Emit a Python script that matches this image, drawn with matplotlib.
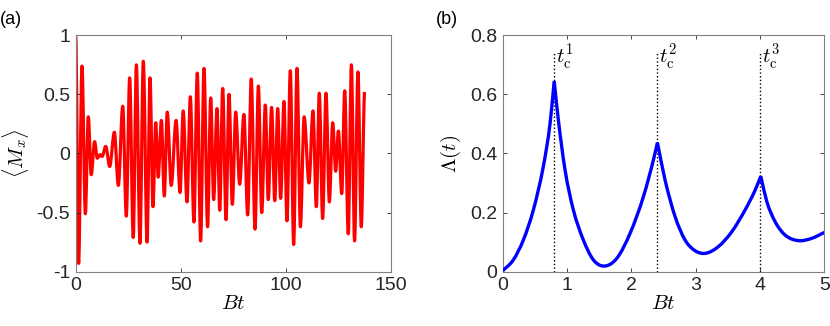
import matplotlib
matplotlib.use("Agg")
import matplotlib.pyplot as plt
from matplotlib.path import Path
from matplotlib.patches import PathPatch

plt.rcParams['font.family'] = ['Liberation Sans', 'DejaVu Sans']
plt.rcParams['mathtext.fontset'] = 'cm'

# ---- panel (a): turning points of <M_x> ----
mx_t = [0, 1.4, 3.0, 4.6, 6.0, 7.4, 9.0, 10.3, 11.6, 12.6, 14.3, 16.2, 18.4,
        20.3, 22.4, 24.1, 25.7, 27.4, 28.9, 30.6, 32.2, 34.0, 35.4, 36.8,
        38.1, 39.3, 40.8, 42.2, 43.6, 45.5, 47.8, 49.7, 51.2, 53.0, 54.6,
        56.3, 57.9, 59.5, 61.1, 62.8, 64.3, 65.7, 67.3, 68.6, 70.0, 71.6,
        73.0, 74.6, 76.2, 78.1, 80.1, 81.9, 83.6, 85.4, 87.0, 88.6, 90.3,
        91.7, 93.3, 94.8, 96.2, 97.6, 99.2, 100.6, 102.2, 103.8, 105.4,
        107.0, 108.8, 111.1, 113.0, 114.6, 116.0, 117.6, 119.2, 120.8,
        122.4, 123.8, 125.1, 126.7, 128.1, 129.8, 131.3, 132.8, 134.4,
        136.0, 137.6]
mx_val = [1.0, -0.93, 0.74, -0.51, 0.31, -0.18, 0.10, -0.04, -0.01, -0.025,
          0.06, -0.11, 0.18, -0.27, 0.40, -0.53, 0.64, -0.71, 0.75, -0.76,
          0.78, -0.75, 0.64, -0.45, 0.26, -0.20, 0.28, -0.36, 0.35, -0.27,
          0.28, -0.33, 0.36, -0.41, 0.48, -0.58, 0.68, -0.74, 0.72, -0.62,
          0.47, -0.39, 0.38, -0.48, 0.55, -0.56, 0.50, -0.43, 0.35, -0.26,
          0.33, -0.52, 0.63, -0.64, 0.57, -0.50, 0.41, -0.39, 0.39, -0.40,
          0.38, -0.38, 0.44, -0.57, 0.70, -0.77, 0.72, -0.62, 0.31, -0.25,
          0.36, -0.45, 0.51, -0.55, 0.51, -0.41, 0.26, -0.15, 0.19, -0.34,
          0.53, -0.68, 0.75, -0.74, 0.69, -0.62, 0.52]

# ---- panel (b): Lambda(t) ----
lam_t = [0, 0.165, 0.32, 0.476, 0.63, 0.736, 0.80, 0.865, 0.969, 1.098,
         1.254, 1.409, 1.575, 1.773, 1.98, 2.187, 2.342, 2.405, 2.524, 2.68,
         2.835, 2.99, 3.146, 3.353, 3.56, 3.768, 3.924, 4.012, 4.106, 4.235,
         4.39, 4.597, 4.806, 5.0]
lam_val = [0.003, 0.040, 0.107, 0.209, 0.355, 0.502, 0.645, 0.513, 0.344,
           0.209, 0.107, 0.040, 0.019, 0.045, 0.130, 0.254, 0.378, 0.437,
           0.310, 0.186, 0.107, 0.071, 0.062, 0.085, 0.135, 0.209, 0.276,
           0.323, 0.237, 0.169, 0.124, 0.105, 0.113, 0.133]
tc = [0.8, 2.4, 4.0]
tc_labels = [r'$t_{\rm c}^{1}$', r'$t_{\rm c}^{2}$', r'$t_{\rm c}^{3}$']

spine_col = '#262626'


def turning_path(xs, ys):
    # cubic segments with flat tangents at every read turning point
    verts = [(xs[0], ys[0])]
    codes = [Path.MOVETO]
    for i in range(1, len(xs)):
        dx = xs[i] - xs[i - 1]
        verts += [(xs[i - 1] + dx / 3, ys[i - 1]), (xs[i] - dx / 3, ys[i]),
                  (xs[i], ys[i])]
        codes += [Path.CURVE4] * 3
    return Path(verts, codes)


def smooth_path(xs, ys):
    # Catmull-Rom style cubic segments, kept sharp at local maxima (cusps)
    n = len(xs)
    sl = [(ys[i + 1] - ys[i]) / (xs[i + 1] - xs[i]) for i in range(n - 1)]
    left, right = [], []
    for i in range(n):
        if i == 0:
            left.append(sl[0]); right.append(sl[0])
        elif i == n - 1:
            left.append(sl[-1]); right.append(sl[-1])
        elif ys[i] > ys[i - 1] and ys[i] > ys[i + 1]:
            left.append(sl[i - 1]); right.append(sl[i])
        else:
            m = 0.5 * (sl[i - 1] + sl[i])
            left.append(m); right.append(m)
    verts = [(xs[0], ys[0])]
    codes = [Path.MOVETO]
    for i in range(n - 1):
        dx = xs[i + 1] - xs[i]
        verts += [(xs[i] + dx / 3, ys[i] + right[i] * dx / 3),
                  (xs[i + 1] - dx / 3, ys[i + 1] - left[i + 1] * dx / 3),
                  (xs[i + 1], ys[i + 1])]
        codes += [Path.CURVE4] * 3
    return Path(verts, codes)


fig = plt.figure(figsize=(8.3, 3.26), dpi=100)
ax1 = fig.add_axes([0.0912, 0.1666, 0.3795, 0.7252])
ax2 = fig.add_axes([0.6057, 0.1666, 0.3875, 0.7252])

ax1.add_patch(PathPatch(turning_path(mx_t, mx_val), fill=False,
                        edgecolor='red', lw=2.3, joinstyle='round',
                        capstyle='butt'))
ax1.set_xlim(0, 150)
ax1.set_ylim(-1, 1)
ax1.set_xticks([0, 50, 100, 150])
ax1.set_yticks([-1, -0.5, 0, 0.5, 1])
ax1.set_yticklabels(['-1', '-0.5', '0', '0.5', '1'])
ax1.set_xlabel(r'$Bt$', fontsize=15, labelpad=0)
ax1.set_ylabel(r'$\langle M_x \rangle$', fontsize=15, labelpad=4)

for t, lab in zip(tc, tc_labels):
    ax2.plot([t, t], [0, 0.745], ':', color='black', lw=1)
    ax2.text(t + 0.03, 0.705, lab, fontsize=15)
ax2.add_patch(PathPatch(smooth_path(lam_t, lam_val), fill=False,
                        edgecolor='blue', lw=2.4, joinstyle='miter',
                        capstyle='butt', zorder=3))
ax2.set_xlim(0, 5)
ax2.set_ylim(0, 0.8)
ax2.set_xticks([0, 1, 2, 3, 4, 5])
ax2.set_yticks([0, 0.2, 0.4, 0.6, 0.8])
ax2.set_yticklabels(['0', '0.2', '0.4', '0.6', '0.8'])
ax2.set_xlabel(r'$Bt$', fontsize=15, labelpad=0)
ax2.set_ylabel(r'$\Lambda(t)$', fontsize=15, labelpad=5)

for ax in (ax1, ax2):
    ax.tick_params(direction='in', top=True, right=True, length=3,
                   width=0.6, labelsize=14, colors=spine_col, pad=4)
    for s in ax.spines.values():
        s.set_color('#808080')
        s.set_linewidth(0.8)

fig.text(0.0, 0.925, '(a)', fontsize=13)
fig.text(0.525, 0.925, '(b)', fontsize=13)

fig.savefig('out.png', dpi=100)
